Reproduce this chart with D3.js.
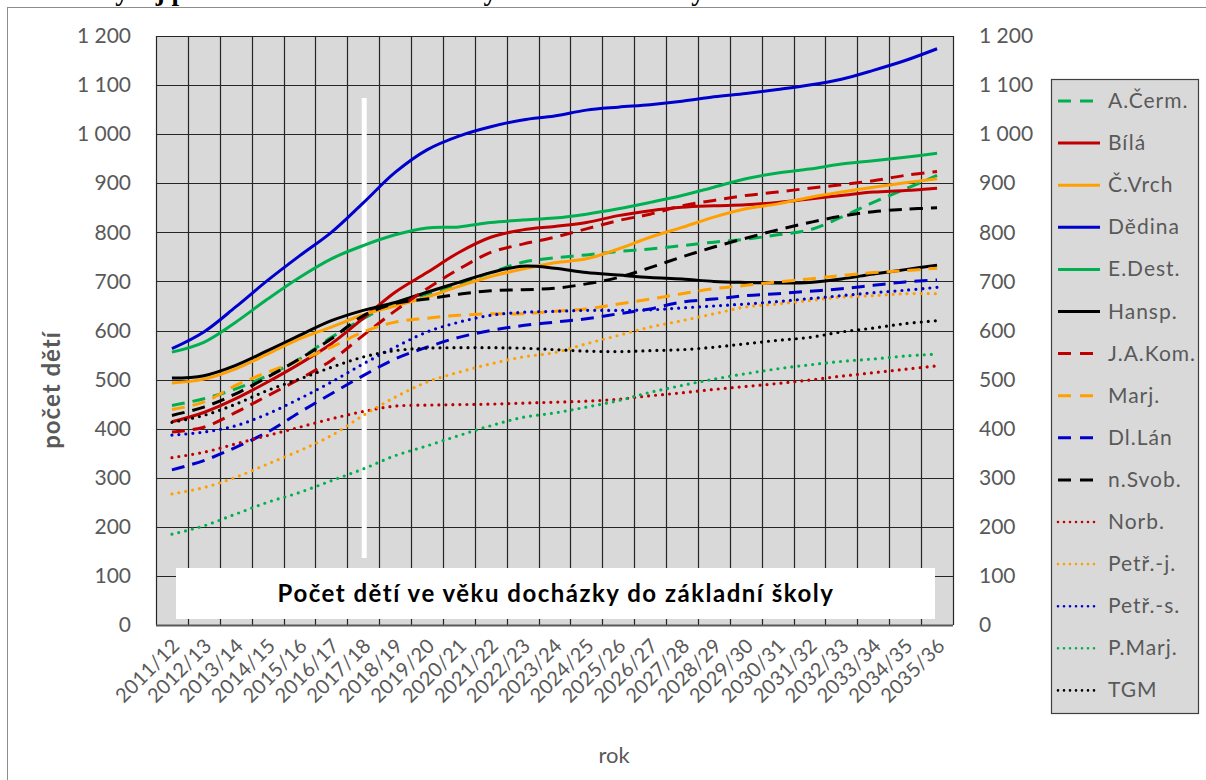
<!DOCTYPE html>
<html lang="cs">
<head>
<meta charset="UTF-8">
<title>Počet dětí ve věku docházky do základní školy</title>
<script src="https://d3js.org/d3.v7.min.js"></script>
<style>
  body { margin: 0; background: #fff; }
  svg text { font-family: Lato, "Open Sans", sans-serif; }
</style>
</head>
<body>
<div id="chart"></div>
<script>
// school years on the x axis
var years = ["2011/12","2012/13","2013/14","2014/15","2015/16","2016/17","2017/18","2018/19",
  "2019/20","2020/21","2021/22","2022/23","2023/24","2024/25","2025/26","2026/27","2027/28",
  "2028/29","2029/30","2030/31","2031/32","2032/33","2033/34","2034/35","2035/36"];

// pupils per school district
var aCerm  = [447,461,481,508,542,586,624,657,674,695,718,739,748,754,761,766,773,780,786,795,805,831,861,888,916];
var bila   = [414,433,461,495,532,573,625,678,718,759,790,805,812,820,834,844,851,854,856,861,868,875,882,885,890];
var cVrch  = [493,501,522,552,583,607,632,650,668,690,710,725,738,746,766,790,810,831,848,858,871,882,892,901,909];
var dedina = [563,597,648,702,752,800,860,922,968,996,1015,1029,1037,1049,1055,1060,1067,1076,1083,1091,1100,1112,1130,1150,1174];
var eDest  = [556,576,617,664,708,746,773,795,809,811,820,825,829,837,848,861,875,892,909,921,929,939,946,953,961];
var hansp  = [503,508,529,559,590,620,641,657,678,698,718,731,727,718,713,708,705,700,698,697,698,705,715,724,733];
var jaKom  = [393,403,433,467,501,539,590,640,685,725,759,776,790,807,824,837,854,865,875,882,890,897,905,916,924];
var marj   = [439,454,488,515,539,566,597,617,625,631,634,634,639,644,654,664,675,685,692,699,705,712,718,722,727];
var dlLan  = [316,335,362,393,433,471,508,542,566,586,600,610,617,624,634,644,658,664,671,675,680,685,692,699,703];
var nSvob  = [427,444,471,505,542,583,630,655,664,674,681,683,686,695,708,728,750,770,788,805,820,833,842,847,850];
var norb   = [341,352,369,386,403,420,435,446,448,449,450,452,454,456,460,467,473,480,486,492,499,507,514,521,528];
var petrJ  = [267,280,301,328,355,386,427,464,495,515,532,546,555,573,590,607,620,634,648,654,661,668,671,675,675];
var petrS  = [387,393,406,430,461,495,532,566,597,617,631,637,639,641,641,642,646,650,654,659,665,671,677,682,688];
var pMarj  = [185,202,226,250,270,294,318,345,365,386,406,423,432,444,457,474,488,501,512,522,530,537,542,548,552];
var tgm    = [413,427,450,478,501,525,546,559,564,565,565,564,561,558,557,559,561,566,573,580,586,597,605,614,620];

var names  = ["A.Čerm.","Bílá","Č.Vrch","Dědina","E.Dest.","Hansp.","J.A.Kom.","Marj.","Dl.Lán","n.Svob.","Norb.","Petř.-j.","Petř.-s.","P.Marj.","TGM"];
var values = [aCerm, bila, cVrch, dedina, eDest, hansp, jaKom, marj, dlLan, nSvob, norb, petrJ, petrS, pMarj, tgm];
var colors = ["#00b050","#c00000","#ffa000","#0000cc","#00b050","#000000","#c00000","#ffa000","#0000cc","#000000","#c00000","#ffa000","#0000cc","#00b050","#000000"];
var styles = ["dash","solid","solid","solid","solid","solid","dash","dash","dash","dash","dot","dot","dot","dot","dot"];

var yTicks = [0,100,200,300,400,500,600,700,800,900,1000,1100,1200];

var W = 1206, H = 780;
var plot = {left: 156, right: 953, top: 36, bottom: 625};

var svg = d3.select("#chart").append("svg")
  .attr("width", W).attr("height", H);

// figure caption above, only its lower edge is inside the picture
svg.append("text")
  .attr("x", 8).attr("y", 0)
  .style("font-family", "'Liberation Serif', serif")
  .style("font-weight", "bold")
  .style("font-size", "27px")
  .text("Obr. 1: Vývoj počtu dětí ve věku docházky do základní školy");

// chart frame
svg.append("rect")
  .attr("x", 7.5).attr("y", 7.5).attr("width", W).attr("height", H)
  .attr("fill", "none").attr("stroke", "#8c8c8c");

var x = d3.scaleBand().domain(years).range([plot.left, plot.right]).padding(0);
var y = d3.scaleLinear().domain([0, 1200]).range([plot.bottom, plot.top]);
var cx = function(d) { return x(d) + x.bandwidth() / 2; };

// plot background
svg.append("rect")
  .attr("x", plot.left).attr("y", plot.top)
  .attr("width", plot.right - plot.left).attr("height", plot.bottom - plot.top)
  .attr("fill", "#d9d9d9");

// horizontal grid
svg.append("g").selectAll("line")
  .data(yTicks.slice(1)).enter().append("line")
    .attr("x1", plot.left).attr("x2", plot.right)
    .attr("y1", function(d){ return Math.round(y(d)) + 0.5; })
    .attr("y2", function(d){ return Math.round(y(d)) + 0.5; })
    .attr("stroke", "#262626").attr("stroke-width", 1.2);

// vertical grid at category borders
svg.append("g").selectAll("line")
  .data(years.concat(["end"])).enter().append("line")
    .attr("x1", function(d){ return Math.round(d == "end" ? plot.right : x(d)) + 0.5; })
    .attr("x2", function(d){ return Math.round(d == "end" ? plot.right : x(d)) + 0.5; })
    .attr("y1", plot.top).attr("y2", plot.bottom)
    .attr("stroke", "#262626").attr("stroke-width", 1.2);

// white marker line at 2017/18
svg.append("line")
  .attr("x1", cx("2017/18") + 1).attr("x2", cx("2017/18") + 1)
  .attr("y1", 98).attr("y2", 558)
  .attr("stroke", "#ffffff").attr("stroke-width", 5);

// x axis base line
svg.append("line")
  .attr("x1", plot.left).attr("x2", plot.right)
  .attr("y1", plot.bottom + 0.5).attr("y2", plot.bottom + 0.5)
  .attr("stroke", "#595959").attr("stroke-width", 2);

var fmt = function(d) { return d3.format(",")(d).replace(",", " "); };

// left and right value axes
var leftAxis = svg.append("g")
  .attr("transform", "translate(" + (plot.left - 25) + ",0)")
  .call(d3.axisLeft(y).tickValues(yTicks).tickFormat(fmt).tickSize(0));
var rightAxis = svg.append("g")
  .attr("transform", "translate(" + (plot.right + 26) + ",0)")
  .call(d3.axisRight(y).tickValues(yTicks).tickFormat(fmt).tickSize(0));
[leftAxis, rightAxis].forEach(function(g) {
  g.select(".domain").remove();
  g.selectAll("text")
    .attr("x", 0)
    .style("font-family", "Lato, sans-serif")
    .style("font-size", "21px")
    .attr("fill", "#595959");
});

// category labels
svg.append("g").selectAll("text")
  .data(years).enter().append("text")
    .attr("transform", function(d){ return "translate(" + (cx(d) + 9) + ",647) rotate(-45)"; })
    .attr("text-anchor", "end")
    .style("font-size", "20px")
    .style("letter-spacing", "0.3px")
    .attr("fill", "#595959")
    .text(function(d){ return d; });

// axis titles
svg.append("text")
  .attr("transform", "translate(60,390) rotate(-90)")
  .attr("text-anchor", "middle")
  .style("font-size", "24px").style("font-weight", "bold")
  .style("letter-spacing", "1px")
  .attr("fill", "#595959")
  .text("počet dětí");

svg.append("text")
  .attr("x", 614).attr("y", 763)
  .attr("text-anchor", "middle")
  .style("font-size", "22px")
  .attr("fill", "#595959")
  .text("rok");

// series lines
var line = d3.line()
  .x(function(d, i){ return cx(years[i]); })
  .y(function(d){ return y(d); })
  .curve(d3.curveCatmullRom);

var dashFor = function(s) {
  if (s == "dash") return "13 8";
  if (s == "dot") return "0 7";
  return null;
};

svg.append("g").selectAll("path")
  .data(values).enter().append("path")
    .attr("d", function(d){ return line(d); })
    .attr("fill", "none")
    .attr("stroke", function(d, i){ return colors[i]; })
    .attr("stroke-width", function(d, i){ return styles[i] == "dot" ? 3.2 : 3; })
    .attr("stroke-dasharray", function(d, i){ return dashFor(styles[i]); })
    .attr("stroke-linecap", function(d, i){ return styles[i] == "dot" ? "round" : "butt"; });

// caption box inside the plot
svg.append("rect")
  .attr("x", 176).attr("y", 568).attr("width", 759).attr("height", 51)
  .attr("fill", "#ffffff");
svg.append("text")
  .attr("x", 556).attr("y", 602)
  .attr("text-anchor", "middle")
  .style("font-size", "24px").style("font-weight", "bold")
  .style("letter-spacing", "1.5px")
  .attr("fill", "#000")
  .text("Počet dětí ve věku docházky do základní školy");

// legend
var legend = svg.append("g");
legend.append("rect")
  .attr("x", 1051.5).attr("y", 79.5).attr("width", 147).attr("height", 634)
  .attr("fill", "#d9d9d9").attr("stroke", "#404040").attr("stroke-width", 1.2);

var item = legend.selectAll("g.item")
  .data(names).enter().append("g")
    .attr("class", "item")
    .attr("transform", function(d, i){ return "translate(1058," + (101 + i * 42.1) + ")"; });

item.append("line")
  .attr("x1", 0).attr("x2", 42).attr("y1", 0).attr("y2", 0)
  .attr("stroke", function(d, i){ return colors[i]; })
  .attr("stroke-width", function(d, i){ return styles[i] == "dot" ? 2.6 : 3; })
  .attr("stroke-dasharray", function(d, i){ return styles[i] == "dash" ? "13 9" : (styles[i] == "dot" ? "0 6" : null); })
  .attr("stroke-linecap", function(d, i){ return styles[i] == "dot" ? "round" : "butt"; });

item.append("text")
  .attr("x", 50).attr("y", 7)
  .style("font-size", "21px")
  .style("letter-spacing", "1px")
  .attr("fill", "#595959")
  .text(function(d){ return d; });
</script>
</body>
</html>
